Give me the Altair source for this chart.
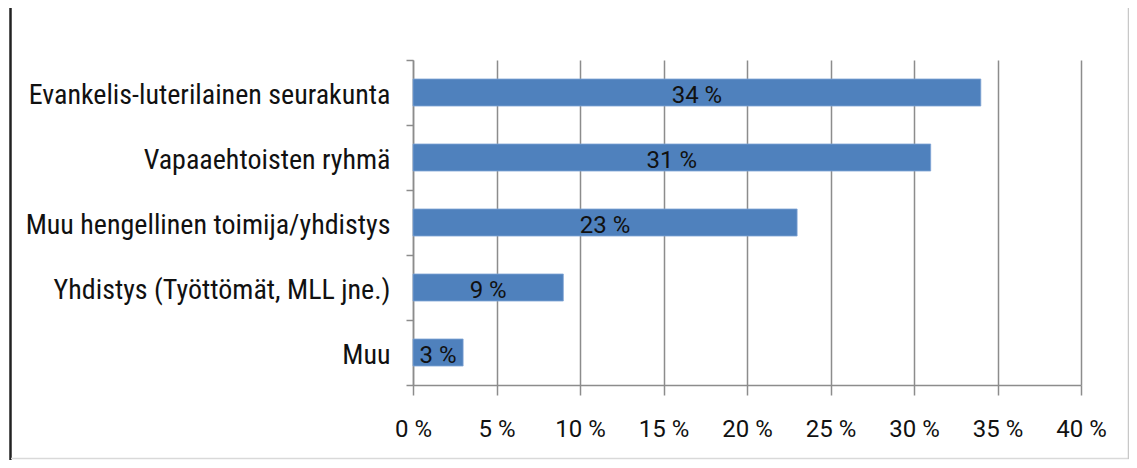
import altair as alt
import pandas as pd

categories = [
    "Evankelis-luterilainen seurakunta",
    "Vapaaehtoisten ryhmä",
    "Muu hengellinen toimija/yhdistys",
    "Yhdistys (Työttömät, MLL jne.)",
    "Muu",
]
values = [34, 31, 23, 9, 3]
x_ticks = [0, 5, 10, 15, 20, 25, 30, 35, 40]

CAT_FONT = "Roboto Condensed, Liberation Sans Narrow, Roboto"
NUM_FONT = "Roboto, Liberation Sans"
GRAY = "#8c8c8c"

df = pd.DataFrame({"cat": categories, "value": values})

W, H = 668, 325

y_enc = alt.Y(
    "cat:N",
    sort=categories,
    scale=alt.Scale(paddingInner=0, paddingOuter=0),
    axis=alt.Axis(
        title=None,
        tickBand="extent",
        tickSize=7,
        tickColor=GRAY,
        tickWidth=1.5,
        domainColor=GRAY,
        domainWidth=1.5,
        labelFont=CAT_FONT,
        labelFontSize=28,
        labelColor="#111111",
        labelPadding=16,
        labelOffset=3,
        labelLimit=420,
        grid=False,
    ),
)

x_enc = alt.X(
    "value:Q",
    scale=alt.Scale(domain=[0, 40], nice=False),
    axis=alt.Axis(
        title=None,
        values=x_ticks,
        labelExpr="datum.value + ' %'",
        labelFlush=False,
        tickSize=10,
        tickColor=GRAY,
        tickWidth=1.5,
        domainColor=GRAY,
        domainWidth=1.5,
        grid=True,
        gridColor=GRAY,
        gridWidth=1.5,
        labelFont=NUM_FONT,
        labelFontSize=24,
        labelColor="#111111",
        labelPadding=22,
        labelBaseline="top",
    ),
)

bars = alt.Chart(df).mark_bar(size=27, color="#4F81BD", stroke="#7fa3d4", strokeWidth=0.8).encode(
    x=x_enc, y=y_enc
)

labels = (
    alt.Chart(df)
    .transform_calculate(mid="datum.value / 2", lab="datum.value + ' %'")
    .mark_text(font=NUM_FONT, fontSize=24, color="#111111", baseline="middle", align="center", dy=3)
    .encode(x=alt.X("mid:Q"), y=alt.Y("cat:N", sort=categories), text="lab:N")
)

frame_df = pd.DataFrame({"k": [1]})
left_border = alt.Chart(frame_df).mark_rule(color="#222222", strokeWidth=2.5).encode(
    x=alt.value(-402.5), y=alt.value(-60), y2=alt.value(400)
)
bottom_border = alt.Chart(frame_df).mark_rule(color="#d9d9d9", strokeWidth=1.5).encode(
    x=alt.value(-402), x2=alt.value(716), y=alt.value(398.5)
)
right_border = alt.Chart(frame_df).mark_rule(color="#c8c8c8", strokeWidth=1.5).encode(
    x=alt.value(715.5), y=alt.value(-60), y2=alt.value(399)
)

chart = (
    alt.layer(bars, labels, left_border, bottom_border, right_border)
    .properties(
        width=W,
        height=H,
        autosize=alt.AutoSizeParams(type="none"),
        padding={"left": 405, "top": 52, "right": 48, "bottom": 75},
        background="white",
    )
    .configure_view(strokeWidth=0)
)

chart.save("out.html", embed_options={"renderer": "svg", "actions": False})
